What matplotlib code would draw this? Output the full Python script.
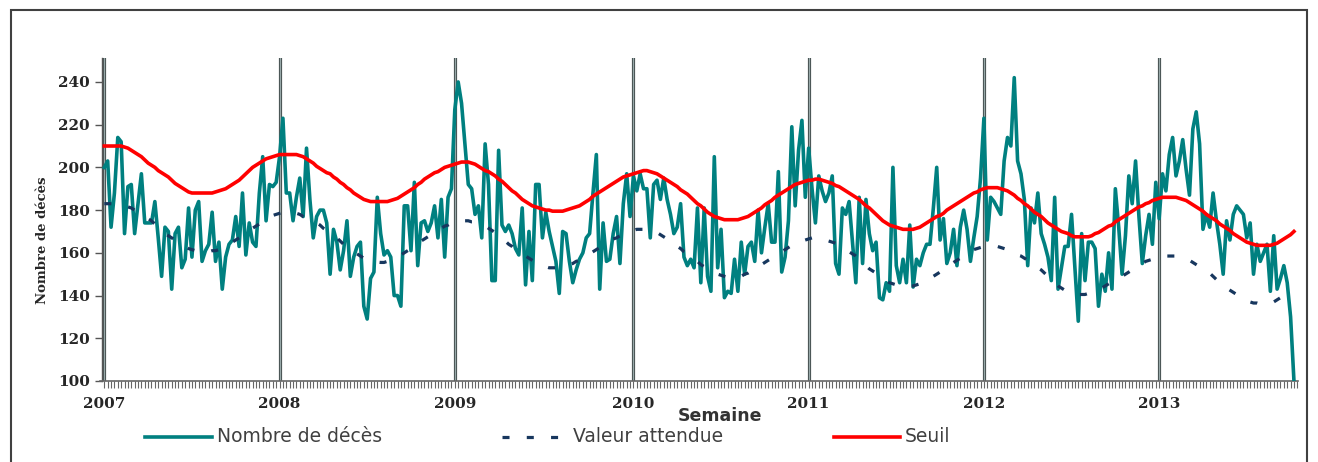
import matplotlib
matplotlib.use("Agg")
import matplotlib.pyplot as plt
from matplotlib.lines import Line2D
from matplotlib.patches import Rectangle
import numpy as np

# ---------------- data ----------------
years = ["2007", "2008", "2009", "2010", "2011", "2012", "2013"]
weeks_per_year = [52, 52, 53, 52, 52, 52, 41]

deaths_2007 = [200, 203, 172, 188, 214, 212, 169, 191, 192, 169, 183, 197, 174, 174, 174, 184, 167, 149, 172, 170,
               143, 169, 172, 153, 157, 181, 158, 180, 184, 156, 161, 164, 179, 156, 165, 143, 158, 164, 166, 177,
               163, 188, 159, 174, 165, 163, 188, 205, 175, 192, 191, 193]
deaths_2008 = [205, 223, 188, 188, 175, 186, 195, 177, 209, 185, 167, 177, 180, 180, 174, 150, 171, 165, 152, 161,
               175, 149, 158, 163, 165, 135, 129, 148, 151, 186, 169, 159, 161, 158, 140, 140, 135, 182, 182, 161,
               193, 154, 174, 175, 170, 174, 182, 167, 185, 158, 186, 190]
deaths_2009 = [227, 240, 230, 211, 192, 190, 178, 182, 167, 211, 192, 147, 147, 208, 173, 170, 173, 169, 162, 159,
               181, 145, 170, 147, 192, 192, 167, 179, 170, 163, 156, 141, 170, 169, 156, 146, 152, 157, 160, 167,
               169, 188, 206, 143, 174, 156, 157, 169, 177, 155, 183, 197, 177]
deaths_2010 = [196, 189, 197, 190, 190, 167, 192, 194, 185, 195, 185, 178, 169, 172, 183, 158, 154, 157, 153, 181,
               146, 181, 149, 142, 205, 153, 171, 139, 142, 141, 157, 142, 165, 150, 163, 165, 156, 180, 160, 172,
               183, 165, 165, 198, 151, 158, 175, 219, 182, 208, 222, 186]
deaths_2011 = [209, 190, 174, 196, 189, 184, 188, 196, 155, 150, 181, 178, 184, 165, 146, 186, 155, 185, 169, 161,
               165, 139, 138, 146, 142, 200, 154, 146, 157, 146, 173, 144, 157, 154, 160, 164, 164, 181, 200, 166,
               176, 155, 160, 171, 154, 172, 180, 171, 156, 167, 177, 195]
deaths_2012 = [223, 166, 186, 184, 181, 178, 203, 214, 210, 242, 203, 197, 185, 154, 181, 174, 188, 169, 164, 158,
               147, 186, 143, 153, 163, 163, 178, 153, 128, 169, 147, 165, 165, 162, 135, 150, 142, 160, 143, 190,
               172, 150, 168, 196, 183, 203, 177, 155, 168, 178, 164, 193]
deaths_2013 = [176, 197, 189, 206, 214, 196, 203, 213, 199, 187, 218, 226, 211, 171, 178, 172, 188, 175, 164, 150,
               175, 166, 178, 182, 180, 178, 167, 174, 150, 164, 156, 160, 164, 142, 168, 143, 148, 154, 146, 130,
               100]

expected_2007 = [183, 183, 183, 183, 183, 182.5, 182, 181.5, 181, 180, 179, 178, 177, 176, 175, 173.5, 172, 170.5,
                 169, 168, 167, 166, 165, 164, 163, 162, 161.5, 161, 161, 160.5, 160.5, 160.5, 161, 161, 161.5, 162,
                 163, 164, 165, 166, 167, 168, 169, 170, 171.5, 172.5, 173.5, 174.5, 175.5, 176.5, 177.5, 178]
expected_2008 = [178.5, 179, 179, 179, 179, 178.5, 178, 177, 176.5, 175.5, 174.5, 174, 173, 171.5, 170.5, 169, 168,
                 167, 165.5, 164, 163, 162, 160.5, 159.5, 158.5, 157.5, 157, 156.5, 156, 155.7, 155.5, 155.5, 156,
                 156.5, 157, 158, 159, 160, 161, 162, 163.5, 164.5, 165.5, 166.5, 167.5, 168.5, 169.5, 170.5, 171.5,
                 172.5, 173, 174]
expected_2009 = [174.5, 175, 175, 175, 175, 174.5, 174.5, 174, 173.5, 172.5, 171.5, 170.5, 169.5, 168, 167, 165.5,
                 164, 163, 161.5, 160.5, 159.5, 158.5, 157.5, 156.5, 155.5, 154.5, 154, 153.5, 153, 153, 153, 153,
                 153.5, 154, 154.5, 155, 156, 156.5, 157.5, 158.5, 159.5, 160.5, 161.5, 162.5, 163.5, 164.5, 165.5,
                 166.5, 167, 168, 169, 169.5, 170]
expected_2010 = [170.5, 171, 171, 171, 171, 170.5, 170, 169.5, 168.5, 167.5, 166.5, 165.5, 164.5, 163, 162, 160.5,
                 159.5, 158.5, 157, 156, 154.5, 153.5, 152.5, 151.5, 150.5, 150, 149.5, 149, 148.5, 148.5, 148.5,
                 148.5, 149, 150, 150.5, 151.5, 152.5, 153.5, 154.5, 155.5, 156.5, 157.5, 158.5, 159.5, 160.5, 161.5,
                 162.5, 163.5, 164.5, 165, 165.5, 166]
expected_2011 = [166.5, 167, 167, 167, 166.5, 166, 165.5, 165, 164.5, 163.5, 162.5, 161.5, 160.5, 159.5, 158.5, 157,
                 155.5, 154, 152.5, 151.5, 150.5, 149, 148, 147, 146, 145.5, 145, 144.5, 144.5, 144.5, 144.5, 144.5,
                 145, 145.5, 146, 147, 148, 149, 150, 151, 152.5, 153.5, 154.5, 155.5, 156.5, 157.5, 158.5, 159.5,
                 160.5, 161.5, 162, 162.5]
expected_2012 = [163, 163, 163, 163, 163, 162.5, 162, 161.5, 161, 160, 159, 158.5, 157.5, 156.5, 155, 154, 153, 152,
                 150.5, 149, 147.5, 146, 144.5, 143.5, 142.5, 141.5, 141, 140.5, 140.5, 140.5, 140.5, 141, 141.5, 142,
                 143, 143.5, 144.5, 145.5, 146.5, 147.5, 148.5, 149, 150, 151, 152, 153, 154, 155, 156, 156.5, 157,
                 157.5]
expected_2013 = [158, 158.5, 158.5, 158.5, 158.5, 158.5, 158, 157.5, 157, 156.5, 155.5, 154.5, 153.5, 152.5, 151.5,
                 150.5, 149, 147.5, 146, 144.5, 143.5, 142.5, 141.5, 140.5, 139.5, 138.5, 137.5, 137, 136.5, 136.5,
                 136, 136, 136, 136.5, 137, 138, 139, 140, 141, 142, 143]

threshold_2007 = [210, 210, 210, 210, 210, 210, 209.5, 209, 208, 207, 206, 205, 203.5, 202, 201, 200, 198.5, 197.5,
                  196.5, 195.5, 194, 192.5, 191.5, 190.5, 189.5, 188.5, 188, 188, 188, 188, 188, 188, 188, 188.5, 189,
                  189.5, 190, 191, 192, 193, 194, 195.5, 197, 198.5, 200, 201, 202, 203, 204, 204.5, 205, 205.5]
threshold_2008 = [206, 206, 206, 206, 206, 206, 205.5, 205, 204, 203, 202, 200.5, 199.5, 198.5, 197.5, 197, 195.5,
                  194.5, 193, 192, 190.5, 189.5, 188, 187, 186, 185, 184.5, 184, 184, 184, 184, 184, 184, 184.5, 185,
                  185.5, 186.5, 187.5, 188.5, 189.5, 190.5, 192, 193, 194.5, 195.5, 196.5, 197.5, 198, 199, 200,
                  200.5, 201]
threshold_2009 = [201.5, 202, 202.5, 202.5, 202.5, 202, 201.5, 200.5, 199.5, 198.5, 198, 197, 196, 194.5, 193.5, 192,
                  190.5, 189, 188, 186.5, 185, 184, 183, 182, 181.5, 181, 180.5, 180, 180, 179.5, 179.5, 179.5, 179.5,
                  180, 180.5, 181, 181.5, 182, 183, 184, 185, 186.5, 187.5, 188.5, 189.5, 190.5, 191.5, 192.5, 193.5,
                  194.5, 195.5, 196, 196.5]
threshold_2010 = [197, 197.5, 198, 198.5, 198.5, 198, 197.5, 197, 196, 195, 194, 193, 192, 191, 189.5, 188.5, 187.5,
                  186, 184.5, 183, 182, 180.5, 179, 178, 177, 176.5, 176, 175.5, 175.5, 175.5, 175.5, 175.5, 176,
                  176.5, 177, 178, 179, 180, 181, 182.5, 183.5, 184.5, 186, 187, 188, 189, 190, 191, 192, 192.5, 193,
                  193.5]
threshold_2011 = [194, 194, 194.5, 194.5, 194, 193.5, 193, 192.5, 191.5, 191, 190, 189, 188, 187, 186, 185, 183.5,
                  182, 181, 179.5, 178, 176.5, 175, 174, 173, 172.5, 172, 171.5, 171, 171, 171, 171, 171.5, 172, 173,
                  174, 175, 176, 177, 177.5, 178.5, 180, 181, 182, 183, 184, 185, 186, 187, 188, 188.5, 189.5]
threshold_2012 = [190, 190.5, 190.5, 190.5, 190.5, 190, 189.5, 189, 188, 187, 185.5, 184.5, 183, 182, 180.5, 179, 178,
                  177, 175.5, 174, 173, 172, 171, 170, 169.5, 169, 168, 167.5, 167.5, 167.5, 167.5, 167.5, 168, 169,
                  169.5, 170.5, 171.5, 172.5, 173, 174.5, 175.5, 176.5, 177.5, 178.5, 179.5, 180.5, 181.5, 182, 183,
                  183.5, 184.5, 185]
threshold_2013 = [185.5, 186, 186, 186, 186, 186, 185.5, 185, 184.5, 183.5, 182.5, 181.5, 180.5, 179.5, 178, 177, 176,
                  175, 173.5, 172.5, 171.5, 170.5, 169, 168, 167, 166, 165, 164.5, 164, 163.5, 163.5, 163.5, 163.5,
                  163.5, 164, 164.5, 165.5, 166.5, 167.5, 168.5, 170]

y_ticks = [100, 120, 140, 160, 180, 200, 220, 240]
labels = ["Nombre de décès", "Valeur attendue", "Seuil"]

# ---------------- assemble ----------------
deaths = deaths_2007 + deaths_2008 + deaths_2009 + deaths_2010 + deaths_2011 + deaths_2012 + deaths_2013
expected = (expected_2007 + expected_2008 + expected_2009 + expected_2010 + expected_2011
            + expected_2012 + expected_2013)
threshold = (threshold_2007 + threshold_2008 + threshold_2009 + threshold_2010 + threshold_2011
             + threshold_2012 + threshold_2013)
x = np.arange(len(deaths))
year_start = np.concatenate([[0], np.cumsum(weeks_per_year)[:-1]])

W, H = 1318, 462
fig = plt.figure(figsize=(W / 100, H / 100), dpi=100)
fig.patch.set_facecolor("white")
ax = fig.add_axes([100 / W, 81 / H, 1198 / W, 323 / H])

TEAL = "#008080"
NAVY = "#17375E"
RED = "#FF0000"
DASH = (0, (2.2, 5.4))

for xs in year_start:
    ax.axvline(xs, color="#4c5757", lw=2.3, zorder=1)
    ax.axvline(xs, color="#9aabab", lw=0.7, zorder=1)

ax.plot(x, deaths, color=TEAL, lw=2.6, zorder=3)
ax.plot(x, expected, color=NAVY, lw=2.3, linestyle=DASH, zorder=4)
ax.plot(x, threshold, color=RED, lw=2.6, zorder=5)

ax.set_xlim(-1.28, 354.2)
ax.set_ylim(100, 251.2)

for s in ["top", "right"]:
    ax.spines[s].set_visible(False)
ax.spines["left"].set_position(("data", -0.6))
ax.spines["left"].set_color("#555555")
ax.spines["left"].set_linewidth(1.0)
ax.spines["bottom"].set_color("#666666")
ax.spines["bottom"].set_linewidth(1.2)

serif_bold = dict(family="DejaVu Serif", weight="bold", size=11)
ax.set_yticks(y_ticks)
ax.set_yticklabels([str(v) for v in y_ticks], fontdict=serif_bold, color="#262626")
ax.tick_params(axis="y", direction="out", length=5, width=1, color="#555555", pad=4)

ax.set_xticks(year_start)
ax.set_xticklabels(years, fontdict=serif_bold, color="#262626")
ax.set_xticks(np.arange(0, len(deaths) + 1), minor=True)
ax.tick_params(axis="x", which="both", direction="out", length=5, width=0.8, color="#666666")
ax.tick_params(axis="x", which="major", pad=6.5)

fig.text(42 / W, 1 - 240 / H, "Nombre de décès", rotation=90, ha="center", va="center",
         family="DejaVu Serif", weight="bold", size=9.5, color="#262626")
fig.text(720 / W, 1 - 416 / H, "Semaine", ha="center", va="center",
         family="DejaVu Sans", weight="bold", size=12.5, color="#333333")

# legend (manual, figure coordinates)
ly = 1 - 437 / H
leg_items = [
    (145, 212, 217, dict(color=TEAL, lw=2.6)),
    (502, 569, 573, dict(color=NAVY, lw=2.3, linestyle=DASH)),
    (834, 900, 905, dict(color=RED, lw=2.6)),
]
for (x0, x1, xt, style), lab in zip(leg_items, labels):
    fig.add_artist(Line2D([x0 / W, x1 / W], [ly, ly], transform=fig.transFigure, **style))
    fig.text(xt / W, ly, lab, ha="left", va="center", family="DejaVu Sans", size=13.5, color="#404040")

# outer frame
fig.add_artist(Rectangle((10.5 / W, -0.1), (1306.5 - 10.5) / W, (462 - 10.5) / H + 0.1,
                         transform=fig.transFigure, fill=False, ec="#404040", lw=1.5))

fig.savefig("out.png", dpi=100, facecolor="white")
